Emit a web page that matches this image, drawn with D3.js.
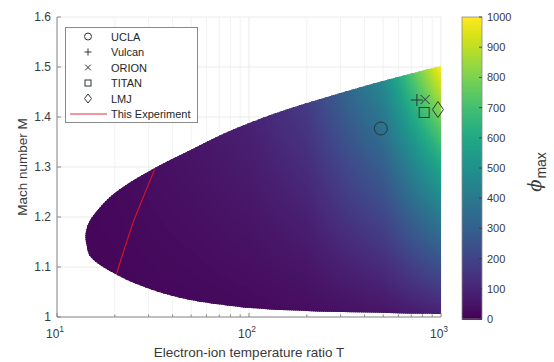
<!DOCTYPE html>
<html>
<head>
<meta charset="utf-8">
<script src="https://cdn.jsdelivr.net/npm/d3@7"></script>
<style>
  html, body { margin: 0; padding: 0; background: #fff; }
  svg { display: block; font-family: "Liberation Sans", Arial, sans-serif; }
</style>
</head>
<body>
<svg id="chart" width="554" height="362"></svg>
<script>
// ---------------- data ----------------
const xTicks = [10, 100, 1000];
const xTickExp = ["1", "2", "3"];
const xMinorTicks = [20, 30, 40, 50, 60, 70, 80, 90, 200, 300, 400, 500, 600, 700, 800, 900];
const yTicks = [1, 1.1, 1.2, 1.3, 1.4, 1.5, 1.6];
const cTicks = [0, 100, 200, 300, 400, 500, 600, 700, 800, 900, 1000];

// boundary of the soliton existence region
const upperT = [1000, 670, 446, 300, 201, 134, 110.5, 74.2, 49.7, 32, 22.3, 18.2, 14.9, 14.3, 14.05];
const upperM = [1.502, 1.485, 1.467, 1.448, 1.428, 1.406, 1.394, 1.367, 1.334, 1.297, 1.261, 1.234, 1.194, 1.178, 1.161];
const lowerT = [14.3, 14.9, 20.6, 33.3, 49.7, 74, 110, 200, 400, 700, 1000];
const lowerM = [1.142, 1.121, 1.084, 1.051, 1.034, 1.024, 1.017, 1.012, 1.009, 1.007, 1.006];

// phi_max field sampled on a grid (rows: T, columns: M)
const fieldT = [10, 20, 50, 100, 200, 500, 1000];
const fieldM = [1.0, 1.1, 1.2, 1.3, 1.4, 1.5, 1.6];
const fieldPhi = [
  [10, 12, 14, 16, 18, 20, 22],
  [14, 18, 22, 26, 30, 34, 38],
  [18, 28, 38, 48, 58, 68, 78],
  [22, 38, 55, 73, 92, 112, 132],
  [30, 56, 88, 124, 162, 204, 244],
  [45, 122, 207, 297, 397, 502, 602],
  [80, 240, 410, 590, 790, 1000, 1200]
];

// facilities
const facNames = ["UCLA", "Vulcan", "ORION", "TITAN", "LMJ"];
const facShapes = ["circle", "plus", "cross", "square", "diamond"];
const facT = [486, 749, 827, 817, 964];
const facM = [1.377, 1.434, 1.435, 1.409, 1.415];

// this experiment
const expT = [20.4, 22.6, 25.2, 28.5, 32.2];
const expM = [1.086, 1.14, 1.194, 1.245, 1.294];
const expName = "This Experiment";

// ---------------- chart ----------------
const svg = d3.select("#chart");
const L = 57, R = 441, TOP = 17, BOT = 317;
const x = d3.scaleLog().domain([10, 1000]).range([L, R]);
const y = d3.scaleLinear().domain([1, 1.6]).range([BOT, TOP]);
const cScale = d3.scaleLinear().domain([0, 1000]).range([319, 17]);
const color = v => d3.interpolateViridis(Math.max(0, Math.min(1, v / 1000)));
const textCol = "#3a3a3a";
const axisCol = "#8a8a8a";

svg.append("rect").attr("width", 554).attr("height", 362).attr("fill", "#fff");

// grid
const grid = svg.append("g");
xMinorTicks.forEach(t => grid.append("line")
  .attr("x1", x(t)).attr("x2", x(t)).attr("y1", TOP).attr("y2", BOT)
  .attr("stroke", "#f2f2f2").attr("stroke-width", 1));
xTicks.forEach(t => grid.append("line")
  .attr("x1", x(t)).attr("x2", x(t)).attr("y1", TOP).attr("y2", BOT)
  .attr("stroke", "#ebebeb").attr("stroke-width", 1));
yTicks.forEach(m => grid.append("line")
  .attr("x1", L).attr("x2", R).attr("y1", y(m)).attr("y2", y(m))
  .attr("stroke", "#ebebeb").attr("stroke-width", 1));

// region outline
const pts = upperT.map((t, i) => [x(t), y(upperM[i])])
  .concat(lowerT.map((t, i) => [x(t), y(lowerM[i])]));
const regionPath = d3.line().curve(d3.curveCatmullRom.alpha(0.5))(pts) + "Z";
svg.append("defs").append("clipPath").attr("id", "reg")
  .append("path").attr("d", regionPath);

// field interpolation on the sampled grid (log T, M)
const lts = fieldT.map(Math.log10);
function phiAt(T, M) {
  const lt = Math.log10(T);
  let i = d3.bisectRight(lts, lt) - 1;
  i = Math.max(0, Math.min(lts.length - 2, i));
  let j = d3.bisectRight(fieldM, M) - 1;
  j = Math.max(0, Math.min(fieldM.length - 2, j));
  const u = (lt - lts[i]) / (lts[i + 1] - lts[i]);
  const v = (M - fieldM[j]) / (fieldM[j + 1] - fieldM[j]);
  const a = fieldPhi[i][j], b = fieldPhi[i + 1][j], c = fieldPhi[i][j + 1], d = fieldPhi[i + 1][j + 1];
  return a * (1 - u) * (1 - v) + b * u * (1 - v) + c * (1 - u) * v + d * u * v;
}

const field = svg.append("g").attr("clip-path", "url(#reg)").attr("shape-rendering", "crispEdges");
const step = 2;
const x0 = Math.floor(x(14));
const cells = [];
for (let px = x0; px < R + 1; px += step) {
  for (let py = y(1.52); py < BOT + 1; py += step) {
    const T = x.invert(px + step / 2), M = y.invert(py + step / 2);
    cells.push({ px, py, v: phiAt(T, M) });
  }
}
field.selectAll("rect").data(cells).join("rect")
  .attr("x", d => d.px).attr("y", d => d.py)
  .attr("width", step + 0.5).attr("height", step + 0.5)
  .attr("fill", d => color(d.v));

// axes lines
svg.append("line").attr("x1", L).attr("x2", L).attr("y1", TOP).attr("y2", BOT)
  .attr("stroke", axisCol).attr("stroke-width", 1);
svg.append("line").attr("x1", L).attr("x2", R).attr("y1", BOT).attr("y2", BOT)
  .attr("stroke", axisCol).attr("stroke-width", 1);

// y ticks
yTicks.forEach(m => {
  svg.append("line").attr("x1", L).attr("x2", L + 4).attr("y1", y(m)).attr("y2", y(m))
    .attr("stroke", axisCol);
  svg.append("text").attr("x", L - 6).attr("y", y(m) + 4)
    .attr("text-anchor", "end").attr("font-size", 12).attr("fill", textCol)
    .text(d3.format("")(m));
});
// x ticks
xMinorTicks.forEach(t => svg.append("line")
  .attr("x1", x(t)).attr("x2", x(t)).attr("y1", BOT).attr("y2", BOT - 2.5)
  .attr("stroke", axisCol));
xTicks.forEach((t, i) => {
  svg.append("line").attr("x1", x(t)).attr("x2", x(t)).attr("y1", BOT).attr("y2", BOT - 4)
    .attr("stroke", axisCol);
  const tx = svg.append("text").attr("x", x(t) - 2).attr("y", 338)
    .attr("text-anchor", "middle").attr("font-size", 12).attr("fill", textCol);
  tx.append("tspan").text("10");
  tx.append("tspan").attr("dy", -6).attr("font-size", 8.5).text(xTickExp[i]);
});

// axis titles
svg.append("text").attr("x", (L + R) / 2).attr("y", 357)
  .attr("text-anchor", "middle").attr("font-size", 13.5).attr("fill", textCol)
  .text("Electron-ion temperature ratio T");
svg.append("text").attr("transform", "translate(27," + ((TOP + BOT) / 2) + ") rotate(-90)")
  .attr("text-anchor", "middle").attr("font-size", 13.5).attr("fill", textCol)
  .text("Mach number M");

// experiment line
const expLine = d3.line().curve(d3.curveCatmullRom)
  .x((d, i) => x(expT[i])).y((d, i) => y(expM[i]));
svg.append("path").attr("d", expLine(expT)).attr("fill", "none")
  .attr("stroke", "#d8141e").attr("stroke-width", 1.1);

// markers
function marker(g, shape, cx, cy, s) {
  const st = { fill: "none", stroke: "#2e3436", "stroke-width": 1 };
  let el;
  if (shape === "circle") el = g.append("circle").attr("cx", cx).attr("cy", cy).attr("r", s.r);
  else if (shape === "plus") el = g.append("path")
    .attr("d", `M${cx - s.p},${cy}H${cx + s.p}M${cx},${cy - s.p}V${cy + s.p}`);
  else if (shape === "cross") el = g.append("path")
    .attr("d", `M${cx - s.c},${cy - s.c}L${cx + s.c},${cy + s.c}M${cx - s.c},${cy + s.c}L${cx + s.c},${cy - s.c}`);
  else if (shape === "square") el = g.append("rect")
    .attr("x", cx - s.q).attr("y", cy - s.q).attr("width", 2 * s.q).attr("height", 2 * s.q);
  else el = g.append("path")
    .attr("d", `M${cx},${cy - s.dh}L${cx + s.dw},${cy}L${cx},${cy + s.dh}L${cx - s.dw},${cy}Z`);
  Object.entries(st).forEach(([k, v]) => el.attr(k, v));
}
const bigSize = { r: 6.5, p: 6, c: 4.5, q: 5, dw: 5.5, dh: 8 };
const mk = svg.append("g");
facT.forEach((t, i) => marker(mk, facShapes[i], x(t), y(facM[i]), bigSize));

// legend
const lg = svg.append("g");
lg.append("rect").attr("x", 65.5).attr("y", 27.5).attr("width", 132).attr("height", 95)
  .attr("fill", "#fff").attr("stroke", "#8a8a8a").attr("stroke-width", 1);
const smallSize = { r: 3.5, p: 3.5, c: 2.8, q: 3, dw: 3.5, dh: 4.5 };
const rowY = [36.5, 52, 67.5, 83, 98.5, 114];
facNames.forEach((n, i) => {
  marker(lg, facShapes[i], 88, rowY[i], smallSize);
  lg.append("text").attr("x", 111).attr("y", rowY[i] + 4).attr("font-size", 11)
    .attr("fill", "#262626").text(n);
});
lg.append("line").attr("x1", 70).attr("x2", 107).attr("y1", rowY[5]).attr("y2", rowY[5])
  .attr("stroke", "#e0303a").attr("stroke-width", 1);
lg.append("text").attr("x", 111).attr("y", rowY[5] + 4).attr("font-size", 11)
  .attr("fill", "#262626").text(expName);

// colorbar
const cb = svg.append("g");
const cbX = 462, cbW = 20;
const cbSteps = d3.range(0, 1000, 2);
cb.selectAll("rect.s").data(cbSteps).join("rect").attr("class", "s")
  .attr("x", cbX).attr("width", cbW)
  .attr("y", d => cScale(d + 2)).attr("height", d => cScale(d) - cScale(d + 2) + 0.6)
  .attr("fill", d => color(d + 1)).attr("shape-rendering", "crispEdges");
cb.append("rect").attr("x", cbX).attr("y", cScale(1000)).attr("width", cbW)
  .attr("height", cScale(0) - cScale(1000)).attr("fill", "none")
  .attr("stroke", "#8a8a8a").attr("stroke-width", 0.8);
cTicks.forEach(v => {
  cb.append("line").attr("x1", cbX + cbW - 3).attr("x2", cbX + cbW).attr("y1", cScale(v)).attr("y2", cScale(v))
    .attr("stroke", "#333").attr("stroke-width", 0.8);
  cb.append("text").attr("x", cbX + cbW + 5).attr("y", cScale(v) + 4)
    .attr("font-size", 11).attr("fill", textCol).text(v);
});
const cl = svg.append("text").attr("transform", "translate(541,172) rotate(-90)")
  .attr("text-anchor", "middle").attr("fill", textCol);
cl.append("tspan").attr("font-size", 18).attr("font-style", "italic").attr("font-family", "DejaVu Serif, serif").text("ϕ");
cl.append("tspan").attr("font-size", 14).attr("dx", 1).attr("dy", 5).text("max");
</script>
</body>
</html>
